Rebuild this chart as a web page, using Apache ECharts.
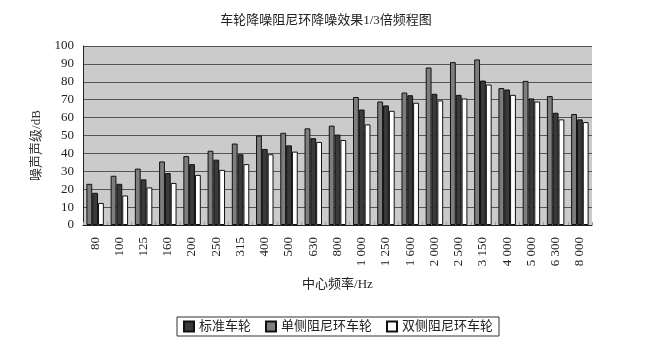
<!DOCTYPE html>
<html><head><meta charset="utf-8">
<script src="https://cdn.jsdelivr.net/npm/echarts@6/dist/echarts.min.js"></script>
<style>html,body{margin:0;padding:0;background:#fff}#c{width:652px;height:354px}</style>
</head><body><div id="c"></div>
<script>
var categories = ['80','100','125','160','200','250','315','400','500','630','800','1 000','1 250','1 600','2 000','2 500','3 150','4 000','5 000','6 300','8 000'];
var singleRing = [23,27.5,31.5,35.5,38.5,41.5,45.5,50,51.5,54,55.5,71.5,69,74,88,91,92.5,76.5,80.5,72,62];
var standard = [18,23,25.5,29,34,36.5,39.5,42.5,44.5,48.5,50.5,64.5,66.8,72.5,73.3,72.7,80.7,75.7,70.7,62.7,59];
var doubleRing = [12.3,16.5,21,23.5,28,30.8,34,39.5,41,46.4,47.5,56.2,63.8,68.3,69.6,70.7,78.5,72.7,69,59,57.5];
var yTicks = [0,10,20,30,40,50,60,70,80,90,100];

var FONT = '"Liberation Serif","Noto Sans CJK SC",serif';
var chart = echarts.init(document.getElementById('c'));
function bar(name, data, color) {
  return {name: name, type: 'bar', data: data, barGap: '0%', barCategoryGap: '28%',
    itemStyle: {color: color, borderColor: '#111', borderWidth: 1}};
}
chart.setOption({
  animation: false,
  title: {text: '车轮降噪阻尼环降噪效果1/3倍频程图', left: 'center', top: 9,
    textStyle: {fontFamily: FONT, fontSize: 13, fontWeight: 'normal', color: '#222'}},
  legend: {data: ['标准车轮','单侧阻尼环车轮','双侧阻尼环车轮'], left: 177, top: 317,
    borderColor: '#333', borderWidth: 1, padding: [3, 6], itemGap: 14,
    itemWidth: 10, itemHeight: 10, icon: 'rect',
    textStyle: {fontFamily: FONT, fontSize: 13, color: '#222'}},
  grid: {left: 83, right: 60, top: 46, bottom: 129, show: true, backgroundColor: '#cbcbcb', borderWidth: 0},
  xAxis: {type: 'category', data: categories, name: '中心频率/Hz', nameLocation: 'middle', nameGap: 53,
    nameTextStyle: {fontFamily: FONT, fontSize: 13, color: '#222'},
    axisLine: {lineStyle: {color: '#222', width: 1}},
    axisTick: {show: true, inside: true, length: 3, lineStyle: {color: '#999'}},
    axisLabel: {rotate: 90, fontFamily: FONT, fontSize: 13, color: '#222', margin: 12, interval: 0}},
  yAxis: {type: 'value', min: 0, max: 100, interval: 10,
    name: '噪声声级/dB', nameLocation: 'middle', nameGap: 40,
    nameTextStyle: {fontFamily: FONT, fontSize: 13, color: '#333', padding: [0, 20, 0, 0]},
    axisLine: {show: true, lineStyle: {color: '#222'}},
    axisTick: {show: false},
    axisLabel: {fontFamily: FONT, fontSize: 13, color: '#222', margin: 9,
      formatter: function (v) { return yTicks.indexOf(v) >= 0 ? String(v) : ''; }},
    splitLine: {lineStyle: {color: '#555', width: 1}}},
  series: [
    bar('单侧阻尼环车轮', singleRing, '#7d7d7d'),
    bar('标准车轮', standard, '#3a3a3a'),
    bar('双侧阻尼环车轮', doubleRing, '#ffffff')
  ]
});
</script></body></html>
